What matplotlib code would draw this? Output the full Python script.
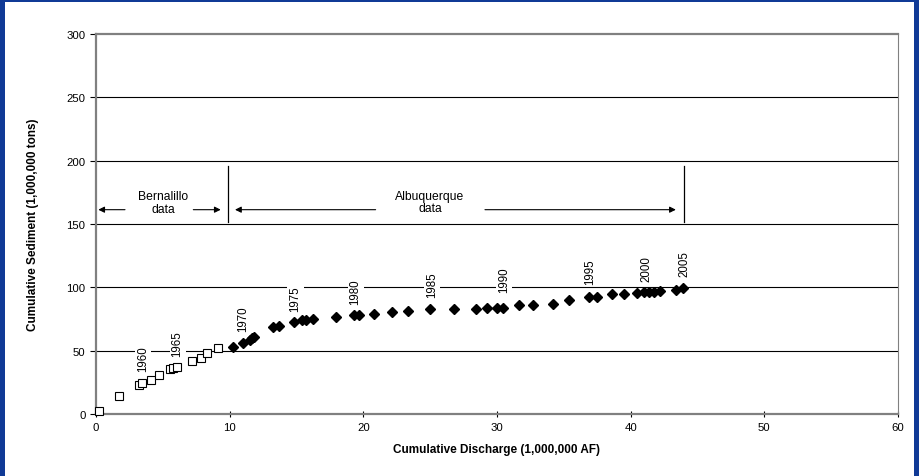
import matplotlib
matplotlib.use("Agg")
import matplotlib.pyplot as plt
from matplotlib.patches import Rectangle

plt.rcParams['font.family'] = ['Liberation Sans', 'DejaVu Sans']

# Bernalillo data (open squares)
bern_x = [0.25, 1.72, 3.2, 3.46, 4.1, 4.69, 5.53, 5.79, 6.03, 7.2, 7.85, 8.3, 9.15]
bern_y = [2.0, 14.2, 23.0, 24.5, 27.0, 31.0, 35.3, 36.0, 36.8, 41.8, 44.2, 48.4, 51.9]

# Albuquerque data (filled diamonds)
abq_x = [10.27, 10.97, 11.52, 11.7, 11.84, 13.26, 13.71, 14.83, 15.38, 15.71, 16.25,
         17.98, 19.32, 19.7, 20.77, 22.14, 23.36, 24.98, 26.8, 28.42, 29.27, 29.97,
         30.47, 31.61, 32.7, 34.16, 35.38, 36.9, 37.45, 38.62, 39.49, 40.46, 41.0,
         41.38, 41.71, 42.23, 43.36, 43.9]
abq_y = [53.1, 56.0, 58.7, 59.8, 61.0, 68.7, 69.5, 72.4, 74.0, 74.2, 75.0,
         76.8, 77.9, 77.9, 79.0, 80.3, 81.3, 82.6, 82.9, 83.1, 83.4, 83.7,
         83.9, 85.8, 86.3, 86.6, 90.2, 92.1, 92.6, 94.5, 94.7, 95.5, 96.0,
         96.3, 96.6, 97.1, 97.9, 99.7]

# Year labels
year_labels = ['1960', '1965', '1970', '1975', '1980', '1985', '1990', '1995', '2000', '2005']
year_x = [3.52, 6.11, 11.02, 14.93, 19.42, 25.15, 30.5, 37.0, 41.2, 44.0]
year_y = [34.0, 45.8, 65.5, 81.6, 86.8, 92.4, 96.3, 102.6, 105.2, 109.2]

x_ticks = [0, 10, 20, 30, 40, 50, 60]
y_ticks = [0, 50, 100, 150, 200, 250, 300]

fig = plt.figure(figsize=(9.2, 4.77), dpi=100)
fig.patch.set_facecolor('#103a96')
W, H = 920, 477
fig.patches.append(Rectangle((5 / W, 0), (W - 11) / W, (H - 3) / H,
                             transform=fig.transFigure, facecolor='white',
                             edgecolor='none', zorder=0))

ax = fig.add_axes([96 / W, (477 - 415) / H, (898 - 96) / W, (415 - 35) / H])
ax.set_zorder(1)
ax.set_xlim(0, 60)
ax.set_ylim(0, 300)
ax.set_xticks(x_ticks)
ax.set_yticks(y_ticks)
ax.tick_params(colors='#000000', length=4, width=0.8, labelsize=8.2)
ax.tick_params(axis='x', direction='inout')
ax.tick_params(axis='y', direction='out')
for lbl in ax.get_xticklabels() + ax.get_yticklabels():
    lbl.set_color('black')
for s in ['left', 'bottom', 'top', 'right']:
    ax.spines[s].set_color('#808080')
ax.spines['left'].set_linewidth(1.6)
ax.spines['bottom'].set_linewidth(1.6)
ax.spines['top'].set_linewidth(1.6)
ax.spines['right'].set_linewidth(0.8)

for yv in y_ticks[1:-1]:
    ax.axhline(yv, color='black', lw=0.8, zorder=1)

ax.plot(bern_x, bern_y, ls='none', marker='s', ms=6.3, mfc='white', mec='black',
        mew=0.8, zorder=3, clip_on=False)
ax.plot(abq_x, abq_y, ls='none', marker='D', ms=5, mfc='black', mec='black',
        zorder=3)

for t, xv, yv in zip(year_labels, year_x, year_y):
    ax.text(xv, yv, t, rotation=90, ha='center', va='bottom', fontsize=8.3,
            zorder=2, bbox=dict(facecolor='white', edgecolor='none', pad=1.5))

# Annotation lines and arrows
ax.plot([9.85, 9.85], [151.4, 195.5], color='black', lw=0.9, zorder=2)
ax.plot([43.98, 43.98], [151.4, 195.5], color='black', lw=0.9, zorder=2)
arrow_y = 161.3
arrows = [(2.17, 0.17), (7.28, 9.33), (20.92, 10.4), (29.1, 43.38)]
for tail, head in arrows:
    ax.annotate('', xy=(head, arrow_y), xytext=(tail, arrow_y),
                arrowprops=dict(arrowstyle='-|>', color='black', lw=0.8,
                                mutation_scale=9, shrinkA=0, shrinkB=0))
ax.text(5.03, 167.1, 'Bernalillo\ndata', ha='center', va='center', fontsize=8.7,
        linespacing=1.1)
ax.text(24.98, 167.4, 'Albuquerque\ndata', ha='center', va='center', fontsize=8.7,
        linespacing=1.1)

ax.set_xlabel('Cumulative Discharge (1,000,000 AF)', fontsize=8.5, fontweight='bold',
              labelpad=8)
ax.set_ylabel('Cumulative Sediment (1,000,000 tons)', fontsize=8.5, fontweight='bold',
              labelpad=20)

fig.savefig('out.png', dpi=100, facecolor=fig.get_facecolor())
